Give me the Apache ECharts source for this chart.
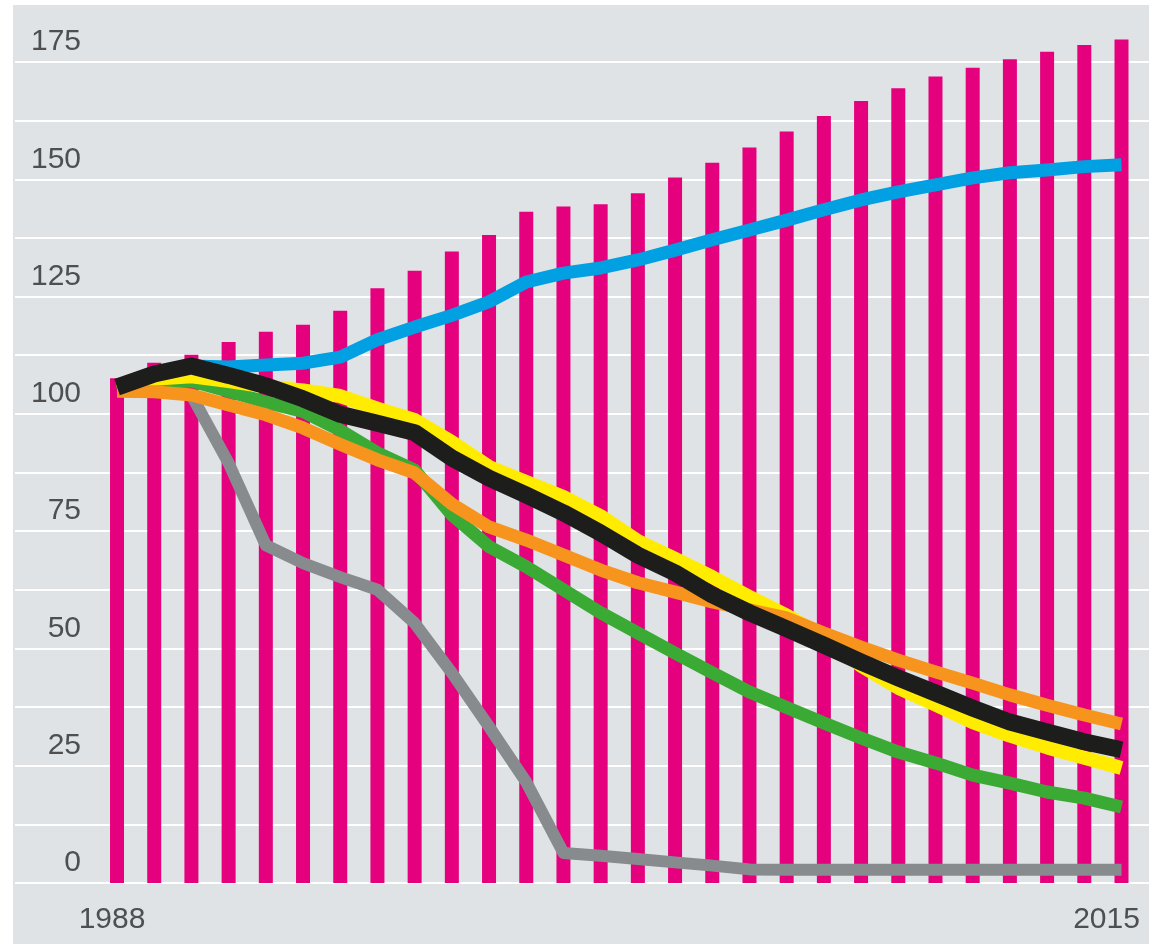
<!DOCTYPE html>
<html>
<head>
<meta charset="utf-8">
<script src="https://cdn.jsdelivr.net/npm/echarts@6/dist/echarts.min.js"></script>
<style>
  html, body { margin: 0; padding: 0; background: #ffffff; }
  #bg { position: absolute; left: 13px; top: 5px; width: 1136px; height: 939px; background: #dfe3e6; }
  #chart { position: absolute; left: 0; top: 0; width: 1154px; height: 944px; }
</style>
</head>
<body>
<div id="bg"></div>
<div id="chart"></div>
<script>
const years = [1988,1989,1990,1991,1992,1993,1994,1995,1996,1997,1998,1999,2000,2001,2002,2003,2004,2005,2006,2007,2008,2009,2010,2011,2012,2013,2014,2015];
const yTickLabels = [0, 25, 50, 75, 100, 125, 150, 175];
const xTickLabels = [1988, 2015];

const barValues    = [107.6,110.9,112.6,115.3,117.5,119.0,122.0,126.8,130.5,134.6,138.1,143.1,144.2,144.7,147.0,150.4,153.5,156.8,160.2,163.5,166.7,169.4,171.9,173.8,175.6,177.2,178.6,179.8];
const blueValues   = [null,null,110.2,110.0,110.4,110.8,112.1,115.8,118.5,121.0,123.9,128.1,130.0,131.1,132.8,134.9,137.1,139.2,141.3,143.5,145.6,147.3,148.8,150.3,151.4,152.0,152.7,153.1];
const blackValues  = [105.7,108.5,110.2,108.2,106.0,103.2,99.9,98.0,96.0,90.6,86.3,82.7,78.9,74.6,69.9,66.1,61.4,57.6,54.2,50.7,47.1,43.7,40.5,37.3,34.3,32.2,30.1,28.4];
const yellowValues = [105.5,107.5,108.0,107.0,105.8,105.0,103.8,101.1,98.7,94.0,88.7,85.5,82.3,78.2,72.9,69.1,65.2,61.0,57.0,52.5,46.3,41.6,38.0,34.3,31.4,28.9,26.7,24.5];
const orangeValues = [104.8,104.7,104.0,101.9,99.8,97.0,93.5,90.2,87.4,80.8,75.9,73.1,69.9,66.7,64.0,62.0,59.9,58.2,56.5,53.3,50.3,47.5,45.0,42.6,40.1,37.9,35.8,33.9];
const greenValues  = [105.0,106.5,107.0,104.8,102.5,100.5,96.5,91.7,88.0,78.5,71.7,67.4,62.5,57.6,53.3,49.0,44.8,40.7,37.4,34.1,30.9,27.9,25.6,23.0,21.3,19.4,18.1,16.2];
const grayValues   = [null,null,104.0,89.5,72.0,68.2,65.2,62.5,55.4,44.8,33.3,21.5,6.4,5.8,5.1,4.4,3.7,2.9,2.8,2.8,2.8,2.8,2.8,2.8,2.8,2.8,2.8,2.8];

function pairs(arr) {
  const out = [];
  arr.forEach((v, i) => { if (v !== null) out.push([years[i], v]); });
  return out;
}

function lineSeries(name, arr, color, width) {
  return {
    name: name, type: 'line', data: pairs(arr), symbol: 'none', clip: false,
    lineStyle: { color: color, width: width, cap: 'butt', join: 'round' },
    emphasis: { disabled: true }
  };
}

const chart = echarts.init(document.getElementById('chart'), null, { renderer: 'canvas' });
chart.setOption({
  animation: false,
  backgroundColor: 'transparent',
  grid: { left: 15, right: 5, top: 62, bottom: 61, containLabel: false },
  xAxis: {
    type: 'value',
    min: 1985.258,
    max: 2015.739,
    axisLine: { show: false },
    axisTick: { show: false },
    splitLine: { show: false },
    axisLabel: {
      customValues: xTickLabels,
      margin: 22,
      fontFamily: 'Liberation Sans',
      fontSize: 30,
      color: '#4d4f51',
      formatter: function (v) { return v === xTickLabels[0] ? '{a|' + v + '}' : '{b|' + v + '}'; },
      rich: {
        a: { fontFamily: 'Liberation Sans', fontSize: 30, color: '#4d4f51', padding: [0, 10, 0, 0] },
        b: { fontFamily: 'Liberation Sans', fontSize: 30, color: '#4d4f51', padding: [0, 30, 0, 0] }
      }
    }
  },
  yAxis: {
    type: 'value',
    min: 0,
    max: 175,
    interval: 12.5,
    axisLine: { show: false },
    axisTick: { show: false },
    splitLine: { show: true, lineStyle: { color: '#ffffff', width: 2 } },
    axisLabel: {
      inside: true,
      margin: 66,
      align: 'right',
      verticalAlign: 'bottom',
      lineHeight: 40,
      fontFamily: 'Liberation Sans',
      fontSize: 30,
      color: '#4d4f51',
      formatter: function (v) { return yTickLabels.indexOf(v) >= 0 ? String(v) : ''; }
    }
  },
  series: [
    {
      name: 'bars', type: 'bar', data: pairs(barValues), barWidth: 14, clip: false,
      itemStyle: { color: '#e5007d' }, emphasis: { disabled: true }
    },
    lineSeries('gray', grayValues, '#878b8e', 12),
    lineSeries('blue', blueValues, '#00a0e2', 13),
    lineSeries('green', greenValues, '#3aaa35', 13),
    lineSeries('yellow', yellowValues, '#ffec00', 14),
    lineSeries('orange', orangeValues, '#f7941d', 13),
    lineSeries('black', blackValues, '#1d1d1b', 17)
  ]
});
</script>
</body>
</html>
